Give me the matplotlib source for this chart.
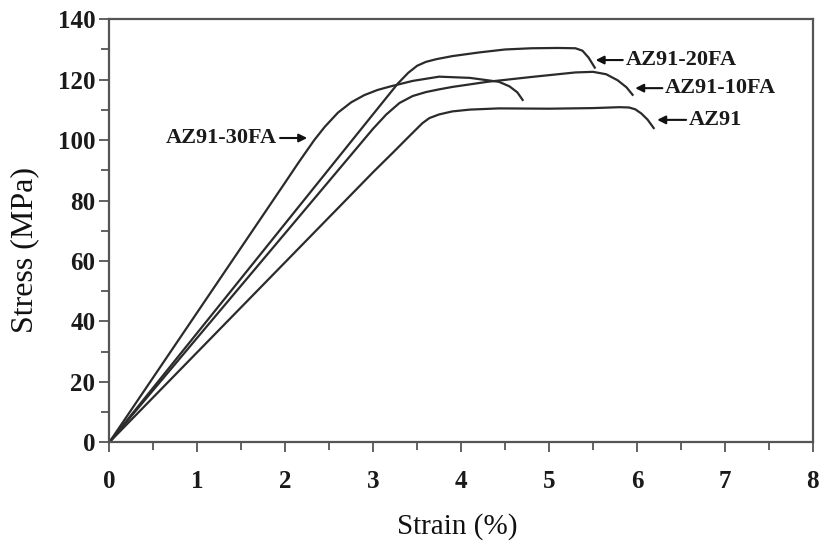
import matplotlib
matplotlib.use("Agg")
import matplotlib.pyplot as plt
from matplotlib.ticker import MultipleLocator

# Tensile stress-strain curves (strain in %, stress in MPa)
strain_az91 = [0, 1.0, 2.0, 3.0, 3.24, 3.38, 3.48, 3.56, 3.64, 3.75, 3.9, 4.1, 4.43,
               5.0, 5.5, 5.8, 5.91, 5.98, 6.05, 6.12, 6.19]
stress_az91 = [0, 29.8, 59.6, 89.4, 96.3, 100.4, 103.3, 105.6, 107.3, 108.5, 109.5, 110.1, 110.5,
               110.4, 110.6, 110.9, 110.8, 110.2, 108.8, 106.8, 104]

strain_10fa = [0, 1.0, 2.0, 3.0, 3.15, 3.3, 3.45, 3.6, 3.75, 3.9, 4.3,
               4.8, 5.3, 5.5, 5.65, 5.78, 5.88, 5.95]
stress_10fa = [0, 34.6, 69.2, 103.8, 108.5, 112.3, 114.6, 115.9, 116.8, 117.6, 119.3,
               120.9, 122.4, 122.6, 121.8, 119.8, 117.5, 115]

strain_20fa = [0, 1.0, 2.0, 3.0, 3.28, 3.4, 3.5, 3.6, 3.72, 3.9, 4.2,
               4.5, 4.8, 5.1, 5.3, 5.38, 5.45, 5.52]
stress_20fa = [0, 36.2, 72.4, 108.6, 118.7, 122.3, 124.6, 125.9, 126.8, 127.8, 129,
               130, 130.4, 130.5, 130.4, 129.6, 127.3, 124]

strain_30fa = [0, 1.0, 1.5, 2.0, 2.15, 2.33, 2.45, 2.6, 2.75, 2.9, 3.05, 3.2, 3.45, 3.75,
               4.1, 4.43, 4.55, 4.64, 4.70]
stress_30fa = [0, 43, 64.5, 86, 92.5, 100, 104.4, 109.1, 112.5, 114.9, 116.6, 117.8, 119.6, 121,
               120.6, 119.3, 117.8, 115.8, 113.3]

labels = ["AZ91-20FA", "AZ91-10FA", "AZ91", "AZ91-30FA"]
arrow_tips = [(5.53, 126.5), (5.98, 117.2), (6.23, 106.7), (2.25, 100.7)]
text_pos = [(5.87, 126.5), (6.32, 117.2), (6.59, 106.7), (1.91, 100.7)]

x_ticks = [0, 1, 2, 3, 4, 5, 6, 7, 8]
y_ticks = [0, 20, 40, 60, 80, 100, 120, 140]

serif = ["Liberation Serif", "DejaVu Serif"]
line_color = "#2b2b2b"
spine_color = "#555555"

fig = plt.figure(figsize=(8.2, 5.44), dpi=100)
ax = fig.add_axes([0.1333, 0.187, 0.858, 0.7776])

for xs, ys in [(strain_az91, stress_az91), (strain_10fa, stress_10fa),
               (strain_20fa, stress_20fa), (strain_30fa, stress_30fa)]:
    ax.plot(xs, ys, color=line_color, lw=1.6, solid_joinstyle="round")

for lab, tip, tp in zip(labels, arrow_tips, text_pos):
    ha = "right" if tp[0] < tip[0] else "left"
    ax.annotate(lab, xy=tip, xytext=tp, ha=ha, va="center",
                fontsize=16, fontweight="bold", family=serif, color="#1a1a1a",
                arrowprops=dict(arrowstyle="-|>", color="#111111", lw=1.5,
                                mutation_scale=12, shrinkA=0, shrinkB=0))

ax.set_xlim(0, 8)
ax.set_ylim(0, 140)
ax.set_xticks(x_ticks)
ax.set_yticks(y_ticks)
ax.xaxis.set_minor_locator(MultipleLocator(0.5))
ax.yaxis.set_minor_locator(MultipleLocator(10))

for s in ax.spines.values():
    s.set_color(spine_color)
    s.set_linewidth(1.6)

ax.tick_params(axis="both", which="both", direction="out", color=spine_color, width=1.3)
ax.tick_params(axis="x", which="major", length=7, pad=13)
ax.tick_params(axis="x", which="minor", length=6)
ax.tick_params(axis="y", which="major", length=7, pad=3)
ax.tick_params(axis="y", which="minor", length=6)

for lbl in ax.get_xticklabels() + ax.get_yticklabels():
    lbl.set_family(serif)
    lbl.set_fontweight("bold")
    lbl.set_fontsize(18)
    lbl.set_color("#1a1a1a")

ax.set_xlabel("Strain (%)", family=serif, fontsize=21, color="#111111")
ax.set_ylabel("Stress (MPa)", family=serif, fontsize=23, color="#111111")
ax.xaxis.set_label_coords(0.494, -0.200)
ax.yaxis.set_label_coords(-0.12, 0.455)
ax.xaxis.label.set_va("center")
ax.yaxis.label.set_va("center")

fig.savefig("out.png", dpi=100, facecolor="white")
